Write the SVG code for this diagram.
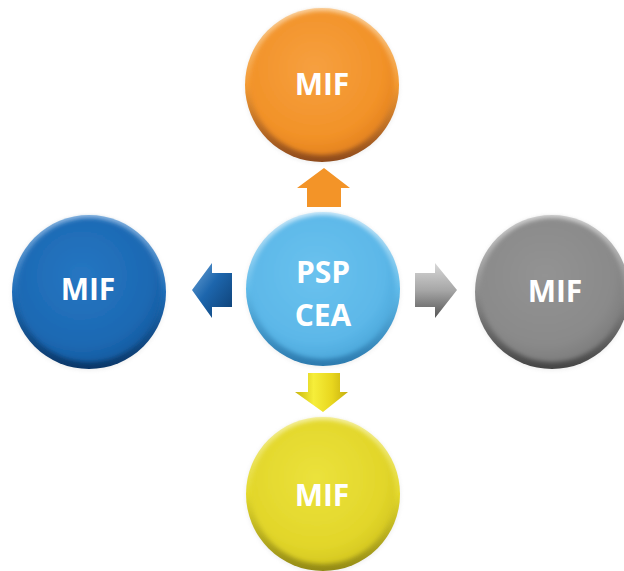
<svg xmlns="http://www.w3.org/2000/svg" width="624" height="571" viewBox="0 0 624 571">
  <defs>
    <style>
      .lbl { font-family: "Open Sans", "DejaVu Sans", sans-serif; font-weight: bold; font-size: 30px; fill: #ffffff; text-anchor: middle; }
    </style>
    <filter id="soft" x="-20%" y="-20%" width="140%" height="140%">
      <feGaussianBlur stdDeviation="2.2"/>
    </filter>
    <filter id="shadow" x="-20%" y="-20%" width="140%" height="140%">
      <feGaussianBlur stdDeviation="2"/>
    </filter>
    <!-- rims -->
    <linearGradient id="rimO" x1="0" y1="0" x2="0" y2="1">
      <stop offset="0" stop-color="#fbd2a0"/><stop offset="0.5" stop-color="#f39a33"/><stop offset="1" stop-color="#8e4a1c"/>
    </linearGradient>
    <radialGradient id="fillO" cx="0.45" cy="0.4" r="0.6">
      <stop offset="0" stop-color="#f6a040"/><stop offset="0.8" stop-color="#f29228"/><stop offset="1" stop-color="#e58420"/>
    </radialGradient>
    <linearGradient id="rimB" x1="0" y1="0" x2="0" y2="1">
      <stop offset="0" stop-color="#8fb7e2"/><stop offset="0.5" stop-color="#1f6db8"/><stop offset="1" stop-color="#0b3768"/>
    </linearGradient>
    <radialGradient id="fillB" cx="0.45" cy="0.4" r="0.6">
      <stop offset="0" stop-color="#2676c2"/><stop offset="0.8" stop-color="#1c69b3"/><stop offset="1" stop-color="#165da3"/>
    </radialGradient>
    <linearGradient id="rimC" x1="0" y1="0" x2="0" y2="1">
      <stop offset="0" stop-color="#cfeafa"/><stop offset="0.5" stop-color="#60bbea"/><stop offset="1" stop-color="#2c7aae"/>
    </linearGradient>
    <radialGradient id="fillC" cx="0.45" cy="0.4" r="0.6">
      <stop offset="0" stop-color="#6ac2ee"/><stop offset="0.8" stop-color="#5cb7e8"/><stop offset="1" stop-color="#4eaadd"/>
    </radialGradient>
    <linearGradient id="rimG" x1="0" y1="0" x2="0" y2="1">
      <stop offset="0" stop-color="#d2d2d2"/><stop offset="0.5" stop-color="#8c8c8c"/><stop offset="1" stop-color="#454545"/>
    </linearGradient>
    <radialGradient id="fillG" cx="0.45" cy="0.4" r="0.6">
      <stop offset="0" stop-color="#939393"/><stop offset="0.8" stop-color="#8a8a8a"/><stop offset="1" stop-color="#7e7e7e"/>
    </radialGradient>
    <linearGradient id="rimY" x1="0" y1="0" x2="0" y2="1">
      <stop offset="0" stop-color="#f5f0a0"/><stop offset="0.5" stop-color="#e4d92c"/><stop offset="1" stop-color="#938a16"/>
    </linearGradient>
    <radialGradient id="fillY" cx="0.45" cy="0.4" r="0.6">
      <stop offset="0" stop-color="#ebe23c"/><stop offset="0.8" stop-color="#e2d62a"/><stop offset="1" stop-color="#d6c922"/>
    </radialGradient>
    <!-- arrows -->
    <linearGradient id="arB" x1="0" y1="0" x2="1" y2="1">
      <stop offset="0" stop-color="#6fa6d8"/><stop offset="0.45" stop-color="#1d66ad"/><stop offset="1" stop-color="#0d3e72"/>
    </linearGradient>
    <linearGradient id="arG" x1="0" y1="0" x2="0" y2="1">
      <stop offset="0" stop-color="#d8d8d8"/><stop offset="0.5" stop-color="#a6a6a6"/><stop offset="1" stop-color="#555555"/>
    </linearGradient>
    <linearGradient id="arY" x1="0" y1="0" x2="1" y2="0">
      <stop offset="0" stop-color="#c9b70e"/><stop offset="0.35" stop-color="#f6ee3a"/><stop offset="0.7" stop-color="#e8d61e"/><stop offset="1" stop-color="#c4ae10"/>
    </linearGradient>
  </defs>

  <g id="connectors">
    <polygon id="arrow-up" points="307,207 341,207 341,188 350,188 324,168 297,188 307,188" fill="#f39428"/>
    <polygon id="arrow-left" points="232,273 232,307 212,307 212,318 192,290 212,263 212,273" fill="url(#arB)"/>
    <polygon id="arrow-right" points="415,273 415,307 435,307 435,318 457,290 435,263 435,273" fill="url(#arG)"/>
    <polygon id="arrow-down" points="308,373 340,373 340,392 348,392 323,412 295,392 308,392" fill="url(#arY)"/>
  </g>

  <g id="node-top">
    <circle cx="322" cy="86" r="77" fill="#c9c9c9" opacity="0.35" filter="url(#shadow)"/>
    <circle cx="322" cy="85" r="77" fill="url(#rimO)"/>
    <circle cx="322" cy="83" r="72" fill="url(#fillO)" filter="url(#soft)"/>
    <text class="lbl" x="322" y="95">MIF</text>
  </g>

  <g id="node-left">
    <circle cx="89" cy="293" r="77" fill="#c9c9c9" opacity="0.35" filter="url(#shadow)"/>
    <circle cx="89" cy="292" r="77" fill="url(#rimB)"/>
    <circle cx="89" cy="290" r="72" fill="url(#fillB)" filter="url(#soft)"/>
    <text class="lbl" x="88" y="300">MIF</text>
  </g>

  <g id="node-center">
    <circle cx="323" cy="290" r="77" fill="#c9c9c9" opacity="0.35" filter="url(#shadow)"/>
    <circle cx="323" cy="289" r="77" fill="url(#rimC)"/>
    <circle cx="323" cy="287" r="72" fill="url(#fillC)" filter="url(#soft)"/>
    <text class="lbl" x="323" y="283">PSP</text>
    <text class="lbl" x="323" y="326">CEA</text>
  </g>

  <g id="node-right">
    <circle cx="552" cy="293" r="77" fill="#c9c9c9" opacity="0.35" filter="url(#shadow)"/>
    <circle cx="552" cy="292" r="77" fill="url(#rimG)"/>
    <circle cx="552" cy="290" r="72" fill="url(#fillG)" filter="url(#soft)"/>
    <text class="lbl" x="555" y="302">MIF</text>
  </g>

  <g id="node-bottom">
    <circle cx="323" cy="495" r="77" fill="#c9c9c9" opacity="0.35" filter="url(#shadow)"/>
    <circle cx="323" cy="494" r="77" fill="url(#rimY)"/>
    <circle cx="323" cy="492" r="72" fill="url(#fillY)" filter="url(#soft)"/>
    <text class="lbl" x="322" y="506">MIF</text>
  </g>
</svg>
